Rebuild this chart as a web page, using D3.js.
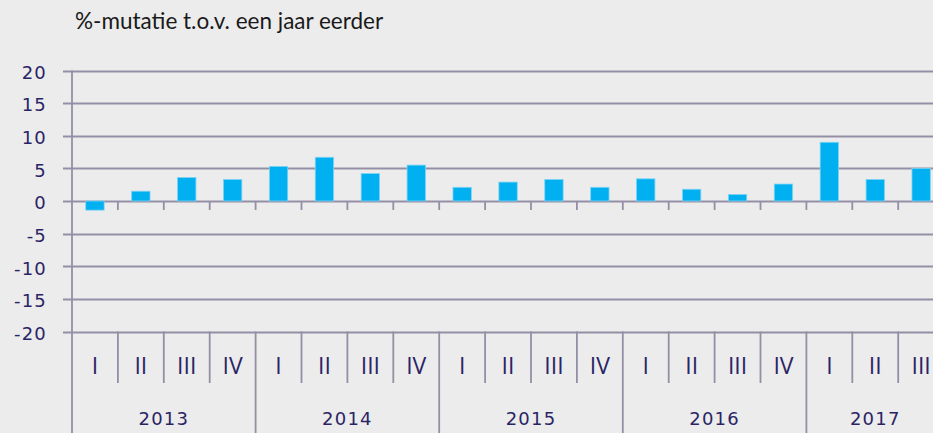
<!DOCTYPE html>
<html>
<head>
<meta charset="utf-8">
<script src="https://cdn.jsdelivr.net/npm/d3@7"></script>
<style>
  html, body { margin: 0; padding: 0; background: #ececec; overflow: hidden; }
  svg { display: block; }
</style>
</head>
<body>
<div id="chart"></div>
<script>
// data
var years = ["2013", "2014", "2015", "2016", "2017"];
var quarters = ["I", "II", "III", "IV"];
var quartersPerYear = [4, 4, 4, 4, 3];
var values = [-1.4, 1.5, 3.6, 3.3, 5.3, 6.7, 4.2, 5.5, 2.1, 2.9, 3.3, 2.1, 3.4, 1.8, 1.0, 2.6, 9.0, 3.3, 5.0];
var yTicks = [20, 15, 10, 5, 0, -5, -10, -15, -20];
var title = "%-mutatie t.o.v. een jaar eerder";

var width = 933, height = 433;
var margin = {left: 72, top: 70.5, bottom: 331.5};
var step = 45.9;

// build category list
var cats = [];
years.forEach(function(y, yi) {
  for (var q = 0; q < quartersPerYear[yi]; q++) {
    cats.push({year: y, q: quarters[q], key: y + "-" + quarters[q]});
  }
});
cats.forEach(function(c, i) { c.value = values[i]; });

var x = d3.scaleBand()
    .domain(cats.map(d => d.key))
    .range([margin.left, margin.left + step * cats.length])
    .paddingInner(0.6)
    .paddingOuter(0.3);

var y = d3.scaleLinear()
    .domain([-20, 20])
    .range([margin.bottom, margin.top]);

var lineColor = "#948fa6";
var textColor = "#2a2465";
var numFont = "'DejaVu Sans', sans-serif";

var svg = d3.select("#chart").append("svg")
    .attr("width", width)
    .attr("height", height);

svg.append("rect").attr("width", width).attr("height", height).attr("fill", "#ececec");

// title
svg.append("text")
    .attr("x", 75)
    .attr("y", 29)
    .attr("font-family", "Lato, 'Open Sans', sans-serif")
    .attr("font-size", 22.5)
    .attr("fill", "#1a1a1a")
    .text(title);

// gridlines
svg.append("g").selectAll("line")
    .data(yTicks)
    .join("line")
    .attr("x1", margin.left - 9)
    .attr("x2", width)
    .attr("y1", d => Math.round(y(d)) + 0.5)
    .attr("y2", d => Math.round(y(d)) + 0.5)
    .attr("stroke", lineColor)
    .attr("stroke-width", 1.8);

// y labels
svg.append("g").selectAll("text")
    .data(yTicks)
    .join("text")
    .attr("x", 47)
    .attr("y", d => y(d) + 2)
    .attr("dy", "0.35em")
    .attr("text-anchor", "end")
    .attr("font-family", numFont)
    .attr("font-size", 18)
    .attr("letter-spacing", 1.2)
    .attr("fill", textColor)
    .text(d => d);

// bars
svg.append("g").selectAll("rect")
    .data(cats)
    .join("rect")
    .attr("x", d => x(d.key))
    .attr("width", x.bandwidth())
    .attr("y", d => y(Math.max(0, d.value)))
    .attr("height", d => Math.abs(y(d.value) - y(0)))
    .attr("fill", "#00b0f0")
    .attr("stroke", "#7fd3f3")
    .attr("stroke-width", 0.8);

// category boundaries
var bounds = cats.map((d, i) => ({i: i, x: margin.left + step * i, yearStart: i === 0 || cats[i - 1].year !== d.year}));
bounds.push({i: cats.length, x: margin.left + step * cats.length, yearStart: true});

// small ticks below zero line
svg.append("g").selectAll("line")
    .data(bounds.filter(d => d.i > 0))
    .join("line")
    .attr("x1", d => d.x).attr("x2", d => d.x)
    .attr("y1", y(0)).attr("y2", y(0) + 9)
    .attr("stroke", lineColor)
    .attr("stroke-width", 1.8);

// axis separators
svg.append("g").selectAll("line")
    .data(bounds.filter(d => d.i > 0))
    .join("line")
    .attr("x1", d => d.x).attr("x2", d => d.x)
    .attr("y1", margin.bottom)
    .attr("y2", d => d.yearStart ? height : 383)
    .attr("stroke", lineColor)
    .attr("stroke-width", 1.8);

// y axis line
svg.append("line")
    .attr("x1", margin.left).attr("x2", margin.left)
    .attr("y1", margin.top).attr("y2", height)
    .attr("stroke", lineColor)
    .attr("stroke-width", 1.8);

// quarter labels
svg.append("g").selectAll("text")
    .data(cats)
    .join("text")
    .attr("x", d => x(d.key) + x.bandwidth() / 2)
    .attr("y", 374)
    .attr("text-anchor", "middle")
    .attr("font-family", "'Open Sans', sans-serif")
    .attr("font-size", 23)
    .attr("fill", textColor)
    .text(d => d.q);

// year labels
var yearPos = years.map(function(yr) {
  var ks = cats.filter(c => c.year === yr);
  var x0 = x(ks[0].key) - x.step() * x.paddingInner() / 2;
  var x1 = x(ks[ks.length - 1].key) + x.bandwidth() + x.step() * x.paddingInner() / 2;
  return {year: yr, x: (x0 + x1) / 2};
});

svg.append("g").selectAll("text")
    .data(yearPos)
    .join("text")
    .attr("x", d => d.x)
    .attr("y", 425)
    .attr("text-anchor", "middle")
    .attr("font-family", numFont)
    .attr("font-size", 18)
    .attr("letter-spacing", 1.2)
    .attr("fill", textColor)
    .text(d => d.year);
</script>
</body>
</html>
